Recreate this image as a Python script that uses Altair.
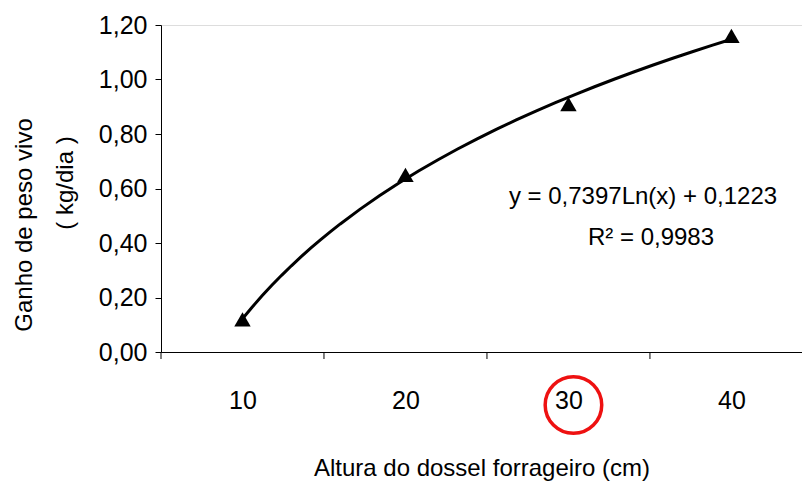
import altair as alt
import pandas as pd

# data
alturas = [10, 20, 30, 40]
ganho = [0.12, 0.65, 0.91, 1.16]
tick_positions = [5, 15, 25, 35]
y_ticks = [0.0, 0.2, 0.4, 0.6, 0.8, 1.0, 1.2]
eq_lines = ["y = 0,7397Ln(x) + 0,1223", "R\u00b2 = 0,9983"]
x_title = "Altura do dossel forrageiro (cm)"
y_title_1 = "Ganho de peso vivo"
y_title_2 = "( kg/dia  )"
highlight = [30]

FONT = "Liberation Sans, Arial"
W, H = 641, 327

df = pd.DataFrame({"x": alturas, "y": ganho})
ticks_df = pd.DataFrame({"t": tick_positions})
hl_df = pd.DataFrame({"x": highlight})

xscale = alt.Scale(domain=[5, 44.33], nice=False, zero=False)
yscale = alt.Scale(domain=[0, 1.2], nice=False)

x_axis = alt.Axis(
    values=alturas, ticks=False, tickSize=0, grid=False,
    labelFont=FONT, labelFontSize=25, labelColor="black", labelPadding=36,
    domainColor="black", domainWidth=1,
    title=x_title, titleFont=FONT, titleFontSize=24, titleFontWeight="normal",
    titleColor="black", titleBaseline="alphabetic", titleY=123,
)
y_axis = alt.Axis(
    values=y_ticks, grid=False, tickSize=6, tickColor="black", tickWidth=1,
    labelFont=FONT, labelFontSize=25, labelColor="black", labelPadding=8,
    labelExpr="replace(format(datum.value, '.2f'), '.', ',')",
    domainColor="black", domainWidth=1, title=None,
)

trend = alt.Chart(df).transform_regression("x", "y", method="log").mark_line(
    color="black", strokeWidth=3
).encode(
    x=alt.X("x:Q", scale=xscale, axis=x_axis),
    y=alt.Y("y:Q", scale=yscale, axis=y_axis),
)

points = alt.Chart(df).mark_point(
    shape="triangle-up", filled=True, color="black", size=270, opacity=1
).encode(x=alt.X("x:Q", scale=xscale), y=alt.Y("y:Q", scale=yscale))

xticks = alt.Chart(ticks_df).mark_rule(color="black", strokeWidth=1).encode(
    x=alt.X("t:Q", scale=xscale), y=alt.value(H), y2=alt.value(H + 7)
)

eq1 = alt.Chart(pd.DataFrame({"t": [eq_lines[0]]})).mark_text(
    font=FONT, fontSize=24, color="black", align="center", baseline="middle"
).encode(text="t:N", x=alt.value(482), y=alt.value(172))
eq2 = alt.Chart(pd.DataFrame({"t": [eq_lines[1]]})).mark_text(
    font=FONT, fontSize=24, color="black", align="center", baseline="middle"
).encode(text="t:N", x=alt.value(490), y=alt.value(213))

yt1 = alt.Chart(pd.DataFrame({"t": [y_title_1]})).mark_text(
    font=FONT, fontSize=24, color="black", align="center", baseline="middle", angle=270
).encode(text="t:N", x=alt.value(-136), y=alt.value(200))
yt2 = alt.Chart(pd.DataFrame({"t": [y_title_2]})).mark_text(
    font=FONT, fontSize=24, color="black", align="center", baseline="middle", angle=270
).encode(text="t:N", x=alt.value(-95), y=alt.value(158))

circle = alt.Chart(hl_df).mark_point(
    shape="circle", filled=False, color="#ee1111", strokeWidth=3.5, size=3200,
    opacity=1, xOffset=5
).encode(x=alt.X("x:Q", scale=xscale), y=alt.value(380))

chart = alt.layer(trend, points, xticks, eq1, eq2, yt1, yt2, circle).properties(
    width=W, height=H,
    autosize=alt.AutoSizeParams(type="none"),
    padding={"left": 161, "top": 25, "right": 0, "bottom": 131},
).configure_view(strokeWidth=0).configure(background="white")

chart.save("out.html", embed_options={"renderer": "svg", "actions": False})
